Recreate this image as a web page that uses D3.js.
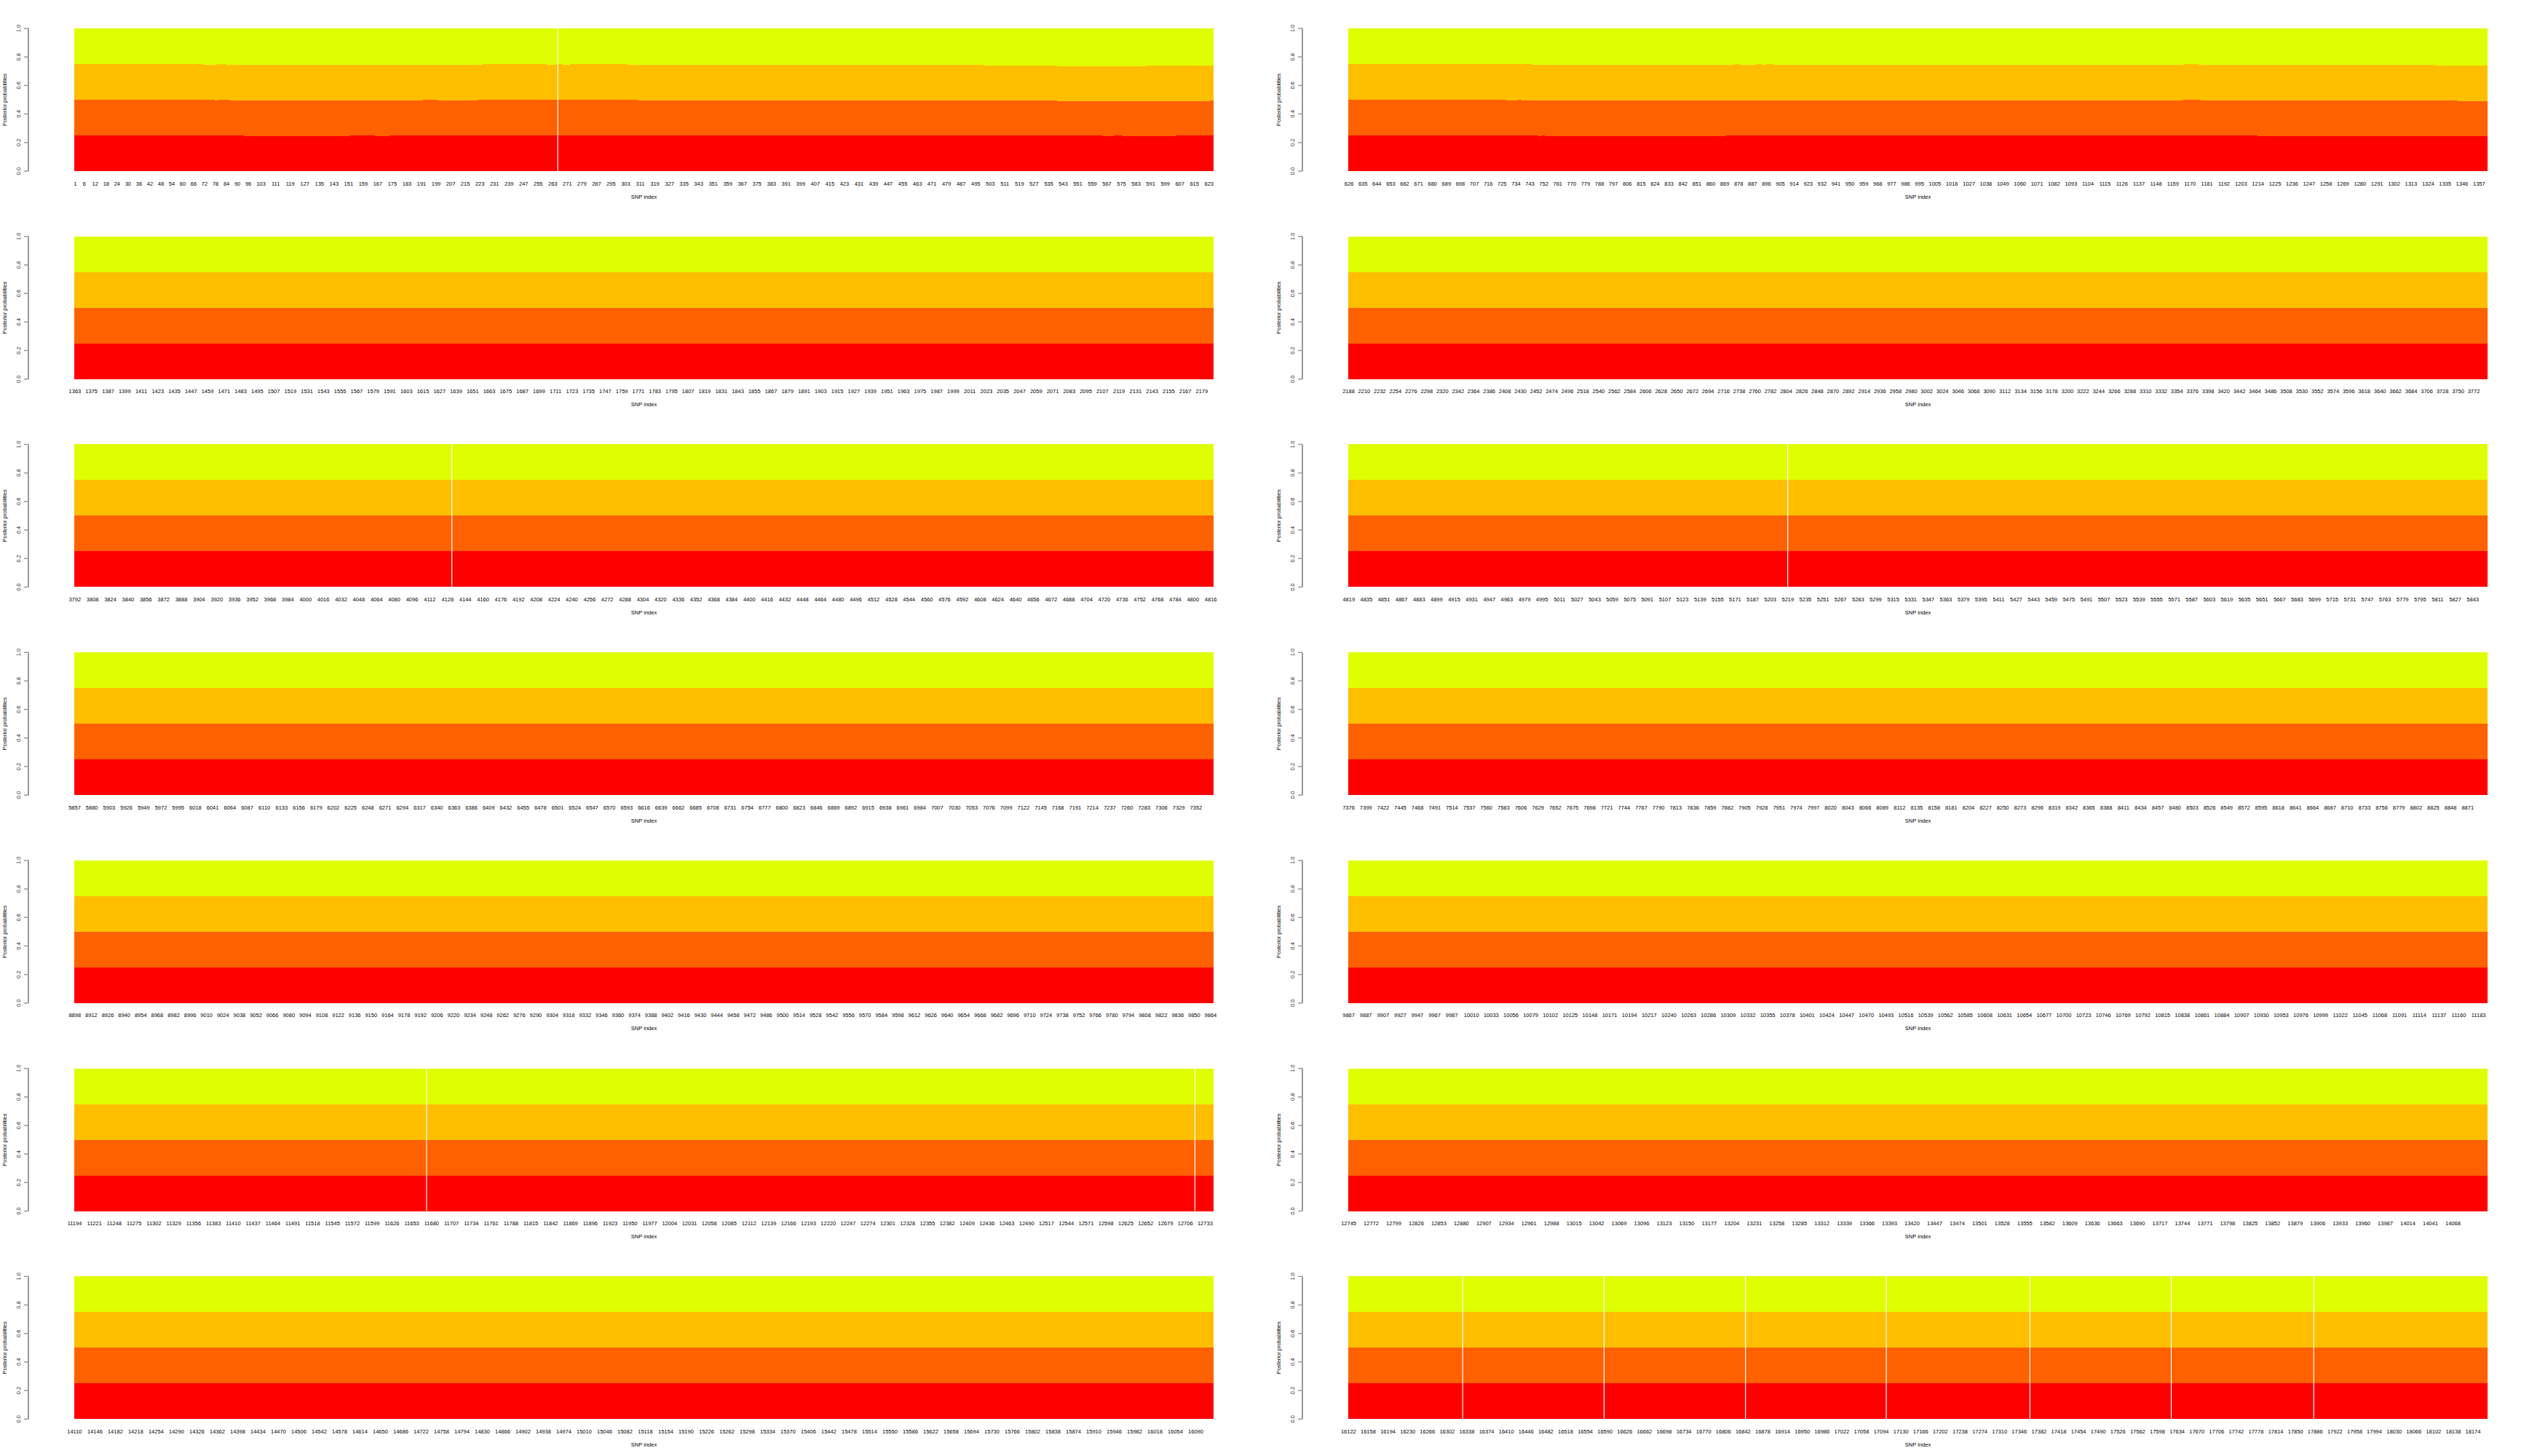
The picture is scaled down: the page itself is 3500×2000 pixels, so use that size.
<!DOCTYPE html>
<html><head><meta charset="utf-8">
<script src="https://cdn.jsdelivr.net/npm/d3@7"></script>
<style>
body{margin:0;background:#fff}
text{font-family:"Liberation Sans",Arial,Helvetica,sans-serif}
</style>
</head><body>
<svg id="chart" width="3500" height="2000"></svg>
<script>
// ---------- DATA ----------
// SNP range shown in each of the 14 panels (row by row, left then right)
const panelFirst = [1, 626, 1363, 2188, 3792, 4819, 5857, 7376, 8898, 9867, 11194, 12745, 14110, 16122];
const panelLast  = [625, 1362, 2187, 3791, 4818, 5856, 7375, 8897, 9866, 11193, 12744, 14109, 16121, 18200];
// tick label runs per panel: [first label, step, last label]
const tickRuns = [
  [[1,1,1],[6,6,96],[103,8,623]],
  [[626,9,995],[1005,11,1357]],
  [[1363,12,2179]],
  [[2188,22,3776]],
  [[3792,16,4816]],
  [[4819,16,5843]],
  [[5857,23,7352]],
  [[7376,23,8893]],
  [[8898,14,9864]],
  [[9867,20,9987],[10010,23,11183]],
  [[11194,27,12733]],
  [[12745,27,14092]],
  [[14110,36,16106]],
  [[16122,36,18174]]
];
// Cluster colours (4 clusters)
const clusterColors = ["#FF0000", "#FF6000", "#FFBF00", "#DFFF00"];
const yTickValues = [0, 0.2, 0.4, 0.6, 0.8, 1.0];
// cumulative posterior probability boundaries: [from SNP, value] (step changes)
const cum1Steps = [[1,0.25],[94,0.245],[152,0.25],[166,0.245],[174,0.25],[565,0.245],[571,0.25],[576,0.245],[605,0.25],
  [626,0.25],[749,0.245],[751,0.25],[753,0.245],[870,0.25],[1214,0.245],[1363,0.25]];
const cum2Steps = [[1,0.5],[78,0.495],[80,0.5],[86,0.495],[192,0.5],[200,0.495],[222,0.5],[310,0.495],[540,0.49],[624,0.495],
  [626,0.5],[728,0.495],[735,0.5],[738,0.495],[1166,0.5],[1177,0.495],[1343,0.49],[1363,0.5]];
const cum3Steps = [[1,0.75],[72,0.745],[79,0.75],[84,0.745],[225,0.75],[260,0.745],[265,0.75],[269,0.745],[273,0.75],[304,0.745],[500,0.74],[540,0.735],[589,0.74],
  [626,0.75],[745,0.745],[876,0.75],[879,0.745],[890,0.75],[893,0.745],[896,0.75],[901,0.745],[1166,0.75],[1176,0.745],[1329,0.74],[1363,0.75]];
// SNPs with missing bars (white gaps)
const gapSNPs = [266, 4132, 5219, 11673, 12719, 16330, 16588, 16846, 17103, 17365, 17623, 17883];

// ---------- LAYOUT ----------
const W = 3500, H = 2000, nRows = 7, nCols = 2;
const cellW = W / nCols, cellH = H / nRows;
const plotL = 102, plotR = 1667, plotT = 39, plotB = 235, axisX = 39;

const svg = d3.select("#chart");
svg.append("rect").attr("width", W).attr("height", H).attr("fill", "#fff");

function stepValue(steps, snp) {
  let v = steps[0][1];
  for (const s of steps) { if (s[0] <= snp) v = s[1]; else break; }
  return v;
}

panelFirst.forEach((first, p) => {
  const last = panelLast[p];
  const row = Math.floor(p / 2), col = p % 2;
  const g = svg.append("g").attr("transform", `translate(${col * cellW},${row * cellH})`);
  const x = d3.scaleLinear().domain([first - 0.5, last + 0.5]).range([plotL, plotR]);
  const y = d3.scaleLinear().domain([0, 1]).range([plotB, plotT]);

  const bps = new Set([first]);
  [cum1Steps, cum2Steps, cum3Steps].forEach(st => st.forEach(s => { if (s[0] > first && s[0] <= last) bps.add(s[0]); }));
  const br = Array.from(bps).sort((a, b) => a - b);
  const segs = br.map((a, i) => {
    const b = i < br.length - 1 ? br[i + 1] - 1 : last;
    const c1 = stepValue(cum1Steps, a), c2 = stepValue(cum2Steps, a), c3 = stepValue(cum3Steps, a);
    return { a, b, q: [c1, c2 - c1, c3 - c2, 1 - c3] };
  });
  const stack = d3.stack().keys([0, 1, 2, 3]).value((d, k) => d.q[k])(segs);
  stack.forEach((layer, k) => {
    g.append("g").attr("shape-rendering", "crispEdges").selectAll("rect").data(layer).join("rect")
      .attr("x", d => x(d.data.a - 0.5))
      .attr("width", d => x(d.data.b + 0.5) - x(d.data.a - 0.5) + 0.3)
      .attr("y", d => y(d[1]))
      .attr("height", d => y(d[0]) - y(d[1]))
      .attr("fill", clusterColors[k]);
  });
  g.selectAll("rect.gap").data(gapSNPs.filter(s => s >= first && s <= last)).join("rect")
    .attr("class", "gap").attr("x", d => x(d - 0.5)).attr("width", 1.2)
    .attr("y", plotT).attr("height", plotB - plotT).attr("fill", "#fff");

  const ya = g.append("g");
  ya.append("line").attr("x1", axisX).attr("x2", axisX).attr("y1", y(0)).attr("y2", y(1))
    .attr("stroke", "#999").attr("stroke-width", 2);
  yTickValues.forEach(v => {
    ya.append("line").attr("x1", axisX - 6).attr("x2", axisX).attr("y1", y(v)).attr("y2", y(v))
      .attr("stroke", "#999").attr("stroke-width", 1.5);
    ya.append("text").attr("transform", `translate(25,${y(v)}) rotate(-90)`)
      .attr("text-anchor", "middle").attr("dy", "0.35em").attr("font-size", 7.5).attr("fill", "#222")
      .text(v.toFixed(1));
  });
  g.append("text").attr("transform", `translate(6,${(plotT + plotB) / 2}) rotate(-90)`)
    .attr("text-anchor", "middle").attr("dy", "0.35em").attr("font-size", 7.5).attr("fill", "#000")
    .text("Posterior probabilities");

  const labels = [];
  tickRuns[p].forEach(r => d3.range(r[0], r[2] + 1, r[1]).forEach(v => labels.push(v)));
  g.append("g").selectAll("text").data(labels).join("text")
    .attr("x", d => x(d)).attr("y", 252).attr("dy", "0.35em")
    .attr("text-anchor", "middle").attr("font-size", 7.5).attr("fill", "#000")
    .text(d => d);
  g.append("text").attr("x", (plotL + plotR) / 2).attr("y", 270).attr("dy", "0.35em")
    .attr("text-anchor", "middle").attr("font-size", 7.5).attr("fill", "#000").text("SNP index");
});
</script>
</body></html>
